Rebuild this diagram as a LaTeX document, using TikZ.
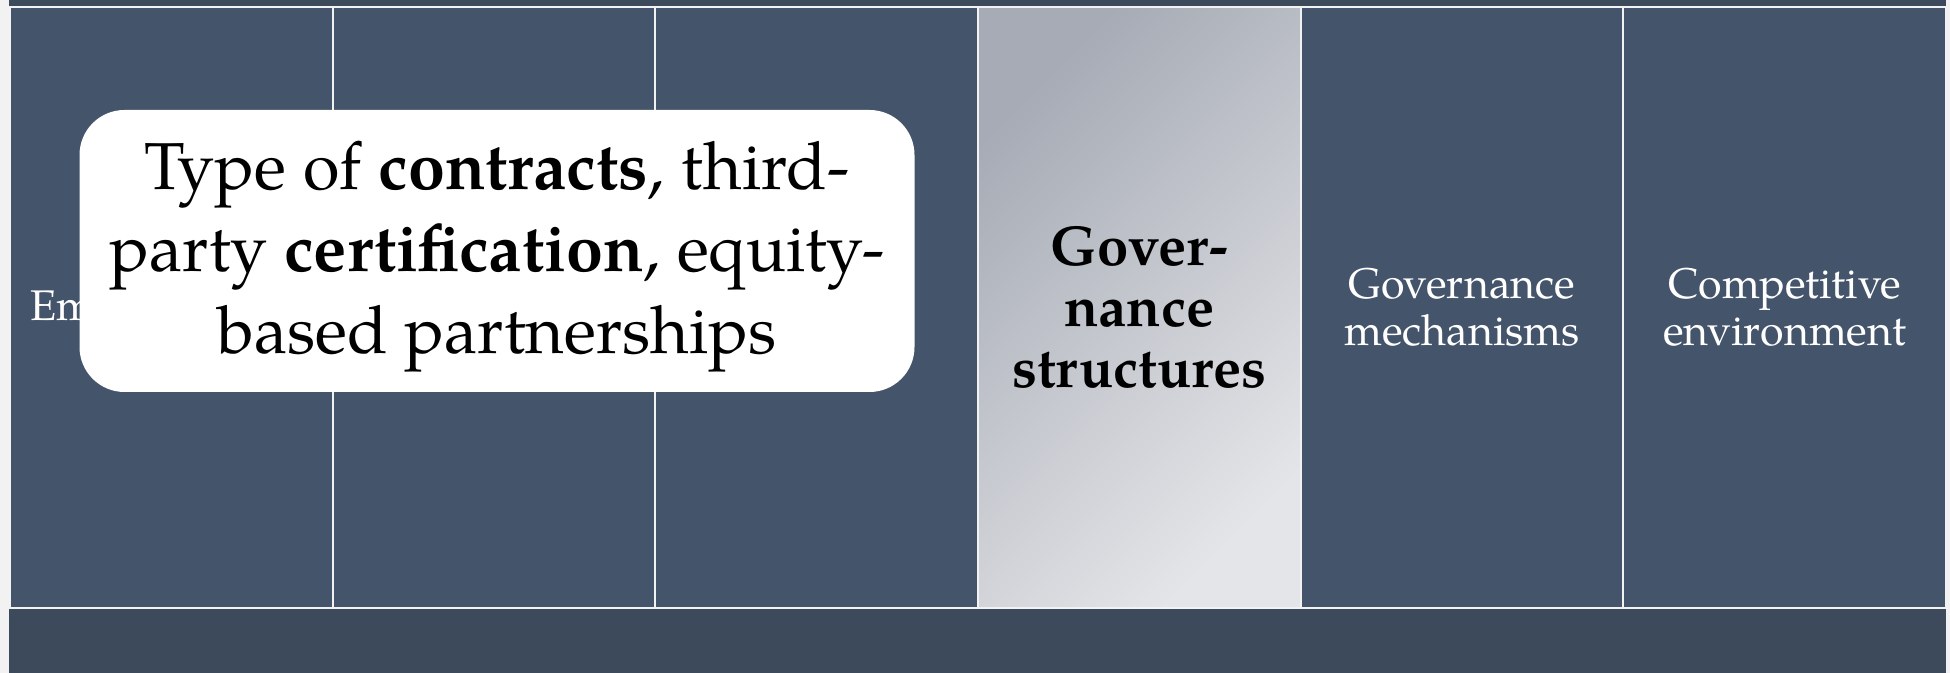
\documentclass[tikz,border=0pt]{standalone}
\usepackage{fontspec}
\setmainfont{TeX Gyre Pagella}
\usetikzlibrary{arrows, positioning}

\definecolor{slate}{HTML}{44546B}
\definecolor{slatedark}{HTML}{3C4A5C}
\definecolor{greydark}{HTML}{A6ABB5}
\definecolor{greylight}{HTML}{E4E5E8}
\definecolor{edge}{HTML}{F2F2F2}

\begin{document}
\begin{tikzpicture}[x = 0.1mm, y = -0.1mm, node distance = 3.227cm,
    column/.style = {rectangle, draw = edge, line width = 0.2mm, fill = slate, minimum width = 3.227cm, minimum height = 6.01cm, inner sep = 0pt},
    coltext/.style = {text = white, align = center, font = \fontsize{12.2}{13.4}\selectfont},
    infobox/.style = {rectangle, fill = white, rounded corners = 4.5mm, minimum width = 8.35cm, minimum height = 2.82cm},
    boxtext/.style = {align = center, font = \fontsize{18.9}{23.3}\selectfont}]
    \useasboundingbox (0,0) rectangle (1950,673);
    \fill[edge]			(0,0) rectangle (1950,673);
    \fill[slatedark]	(9,0) rectangle (1946,673);
    \node[column]							(c1) at (171.3,307.5)	{};
    \node[column]							(c2) [right of=c1]		{};
    \node[column]							(c3) [right of=c2]		{};
    \node[column, top color=greydark, bottom color=greylight, shading angle=45]	(c4) [right of=c3]	{};
    \node[column]							(c5) [right of=c4]		{};
    \node[column]							(c6) [right of=c5]		{};
    \node[coltext, anchor=base west, inner sep=0pt]	(t1) at (30,321)	{Em};
    \node[coltext, text=black, font=\fontsize{16}{17.4}\selectfont\bfseries]	(t4) at (c4)	{Gover-\\nance\\structures};
    \node[coltext]							(t5) at (c5)			{Governance\\mechanisms};
    \node[coltext]							(t6) at (c6)			{Competitive\\environment};
    \node[infobox]							(box) at (497,251)		{};
    \node[boxtext]							(tbox) at ([yshift=-0.6mm]box.center)	{Type of \textbf{contracts}, third-\\party \textbf{certification}, equity-\\based partnerships};
\end{tikzpicture}
\end{document}
